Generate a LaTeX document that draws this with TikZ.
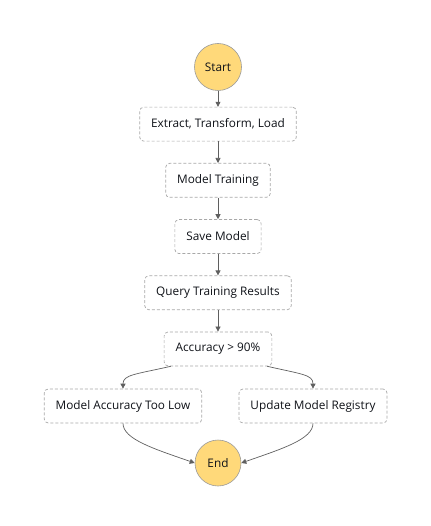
\documentclass[tikz,border=0pt]{standalone}
\usepackage{fontspec}
\setmainfont{Open Sans}
\usetikzlibrary{arrows.meta, positioning, calc}
\definecolor{cyellow}{HTML}{FFD97A}
\definecolor{cring}{HTML}{9A9A9A}
\definecolor{cdash}{HTML}{A8A8A8}
\definecolor{cline}{HTML}{5F5F5F}
\definecolor{ctext}{HTML}{0F1218}
\tikzset{
  every picture/.style={font=\fontsize{11.8}{14}\selectfont, text=ctext},
  terminal/.style={circle, draw=cring, fill=cyellow, line width=0.6pt, minimum size=47pt, inner sep=0pt},
  task/.style={draw=cdash, dashed, dash pattern=on 3pt off 2pt, rounded corners=4pt, line width=0.7pt,
    minimum height=34pt, inner xsep=11.5pt, fill=white},
  arrow/.style={-{Triangle[length=5pt, width=5pt]}, draw=cline, line width=0.7pt},
}
\begin{document}
\begin{tikzpicture}[x=1pt, y=-1pt, node distance=21.5pt]
  \useasboundingbox (0,0) rectangle (430,526);
  \node[terminal] (start) at (218,67) {Start};
  \node[task, below=16pt of start] (etl) {Extract, Transform, Load};
  \node[task, below=of etl] (train) {Model Training};
  \node[task, below=of train] (save) {Save Model};
  \node[task, below=of save] (query) {Query Training Results};
  \node[task, below=of query] (acc) {Accuracy > 90\%};
  \node[task] (low) at (123,406) {Model Accuracy Too Low};
  \node[task] (update) at (313,406) {Update Model Registry};
  \node[terminal, minimum size=46pt] (end) at (218,463) {End};
  % chain
  \draw[arrow] (start) -- (etl);
  \draw[arrow] (etl) -- (train);
  \draw[arrow] (train) -- (save);
  \draw[arrow] (save) -- (query);
  \draw[arrow] (query) -- (acc);
  % branches
  \coordinate (accl) at ($(acc.south west)+(7,0)$);
  \coordinate (accr) at ($(acc.south east)+(-5,0)$);
  \draw[arrow] (accl) .. controls ($(accl)+(-35,8)$) and ($(low.north)+(0,-14)$) .. (low.north);
  \draw[arrow] (accr) .. controls ($(accr)+(35,8)$) and ($(update.north)+(0,-14)$) .. (update.north);
  \draw[arrow] (low.south) .. controls ($(low.south)+(0,16)$) and ($(end.west)+(-40,-14)$) .. (end.west);
  \draw[arrow] (update.south) .. controls ($(update.south)+(0,16)$) and ($(end.east)+(40,-14)$) .. (end.east);
\end{tikzpicture}
\end{document}
